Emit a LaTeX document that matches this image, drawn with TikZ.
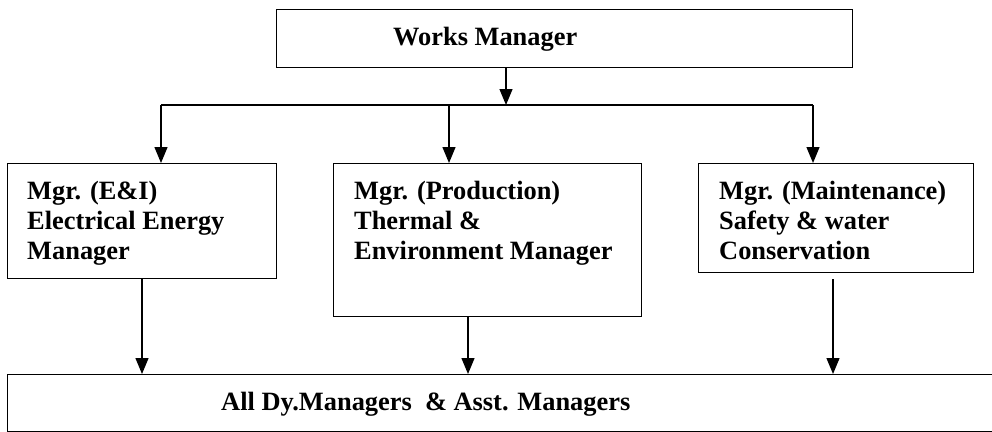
\documentclass[tikz,border=0pt]{standalone}
\usepackage{fontspec}
\setmainfont{Liberation Serif}
\usetikzlibrary{arrows.meta}
\begin{document}
\begin{tikzpicture}[x=1pt,y=-1pt,
  boxline/.style={draw=black,line width=1.3pt,inner sep=0pt,anchor=north west},
  lbl/.style={anchor=base west,inner sep=0pt,font=\fontsize{26.4}{30}\selectfont\bfseries},
  arr/.style={line width=1.3pt,-{Triangle[length=16pt,width=13pt]}},
  conn/.style={line width=1.3pt}]
\useasboundingbox (0,0) rectangle (992,431);
\clip (0,0) rectangle (992,431);
% boxes
\node[boxline,minimum width=576pt,minimum height=58pt] (top) at (276,9) {};
\node[boxline,minimum width=269pt,minimum height=115pt] (b1) at (7,163) {};
\node[boxline,minimum width=308pt,minimum height=153pt] (b2) at (333,163) {};
\node[boxline,minimum width=275pt,minimum height=109pt] (b3) at (698,163) {};
\node[boxline,minimum width=1000pt,minimum height=57pt] (bot) at (7,374) {};
% texts
\node[lbl] (t0) at (393,45) {Works Manager};
\node[lbl] (t1) at (27,199) {\parbox[t]{300pt}{\raggedright Mgr. (E\&I)\\Electrical Energy\\Manager}};
\node[lbl] (t2) at (354,199) {\parbox[t]{300pt}{\raggedright Mgr. (Production)\\Thermal \&\\Environment Manager}};
\node[lbl] (t3) at (719,199) {\parbox[t]{300pt}{\raggedright Mgr. (Maintenance)\\Safety \& water\\Conservation}};
\node[lbl] (t4) at (221,410) {All Dy.Managers\ \ \& Asst. Managers};
% connector points
\coordinate (j0) at (506,105);
\coordinate (hl) at (161,105);
\coordinate (hm) at (449,105);
\coordinate (hr) at (813,105);
\coordinate (d1) at (142,0);
\coordinate (d2) at (468,0);
\coordinate (d3) at (833,0);
% connectors
\draw[arr] (top.south -| j0) -- (j0);
\draw[conn] (hl) -- (hr);
\draw[arr] (hl) -- (hl |- b1.north);
\draw[arr] (hm) -- (hm |- b2.north);
\draw[arr] (hr) -- (hr |- b3.north);
\draw[arr] (b1.south -| d1) -- (bot.north -| d1);
\draw[arr] (b2.south -| d2) -- (bot.north -| d2);
\draw[arr,shorten <=6pt] (b3.south -| d3) -- (bot.north -| d3);
\end{tikzpicture}
\end{document}
